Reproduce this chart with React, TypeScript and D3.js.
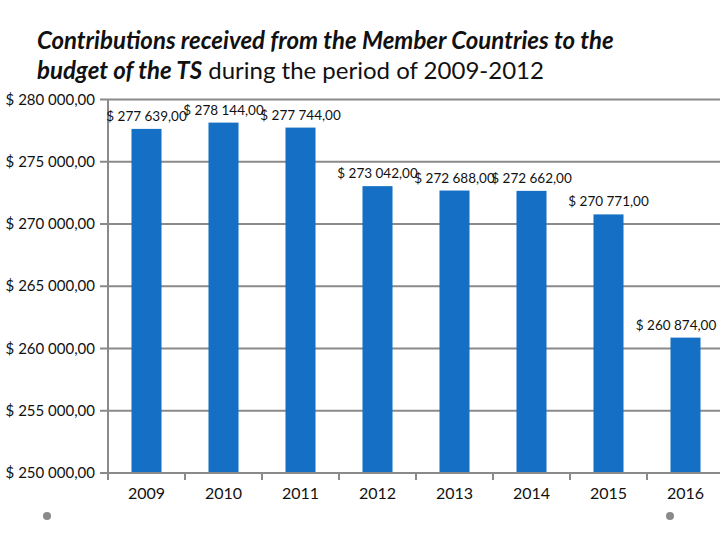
import React from "react";
import * as d3 from "d3";

const years = ["2009", "2010", "2011", "2012", "2013", "2014", "2015", "2016"];
const contributions = [277639, 278144, 277744, 273042, 272688, 272662, 270771, 260874];
const yTicks = [250000, 255000, 260000, 265000, 270000, 275000, 280000];

const W = 720;
const H = 540;
const FONT = "Lato, 'Open Sans', sans-serif";

const fmt = (v: number) => {
  const s = Math.round(v).toString().replace(/\B(?=(\d{3})+(?!\d))/g, " ");
  return `$ ${s},00`;
};

export default function App() {
  const x = d3.scaleBand<string>().domain(years).range([108, 724]).paddingInner(0.61).paddingOuter(0.305);
  const y = d3.scaleLinear().domain([250000, 280000]).range([473, 99.5]);
  const band = d3.scaleBand<string>().domain(years).range([108, 724]);
  const grid = "#8a8a8a";
  const labelHalf = 40;

  return (
    <svg width={W} height={H} style={{ position: "absolute", left: 0, top: 0, background: "#fff" }}
      fontFamily={FONT}>
      <text x={37} y={49} fontSize={24} fontWeight="bold" fontStyle="italic" fill="#111">
        Contributions received from the Member Countries to the
      </text>
      <text x={37} y={79} fontSize={24} fill="#111">
        <tspan fontWeight="bold" fontStyle="italic">budget of the TS</tspan>
        <tspan> during the period of 2009-2012</tspan>
      </text>

      {yTicks.map((t) => (
        <g key={t}>
          <line x1={100} x2={W} y1={y(t)} y2={y(t)} stroke={grid} strokeWidth={2} />
          <text x={95} y={y(t) + 5} textAnchor="end" fontSize={15} fill="#111">
            {fmt(t)}
          </text>
        </g>
      ))}
      <line x1={108} x2={108} y1={y(280000)} y2={y(250000)} stroke={grid} strokeWidth={2} />
      {years.map((yr) => (
        <line key={"t" + yr} x1={band(yr)!} x2={band(yr)!} y1={y(250000)} y2={y(250000) + 7}
          stroke={grid} strokeWidth={2} />
      ))}

      {years.map((yr, i) => (
        <rect key={"b" + yr} x={x(yr)!} y={y(contributions[i])} width={x.bandwidth()}
          height={y(250000) - y(contributions[i]) - 1} fill="#1570C5" />
      ))}
      {years.map((yr, i) => {
        const cx = Math.min(x(yr)! + x.bandwidth() / 2, W - 4 - labelHalf);
        return (
          <text key={"l" + yr} x={cx} y={y(contributions[i]) - 8}
            textAnchor="middle" fontSize={13.5} fill="#111">
            {fmt(contributions[i])}
          </text>
        );
      })}
      {years.map((yr) => (
        <text key={"x" + yr} x={x(yr)! + x.bandwidth() / 2} y={499} textAnchor="middle" fontSize={16}
          fill="#111">
          {yr}
        </text>
      ))}

      <circle cx={47} cy={516} r={4} fill="#8a8a8a" />
      <circle cx={670} cy={516} r={4} fill="#8a8a8a" />
    </svg>
  );
}
